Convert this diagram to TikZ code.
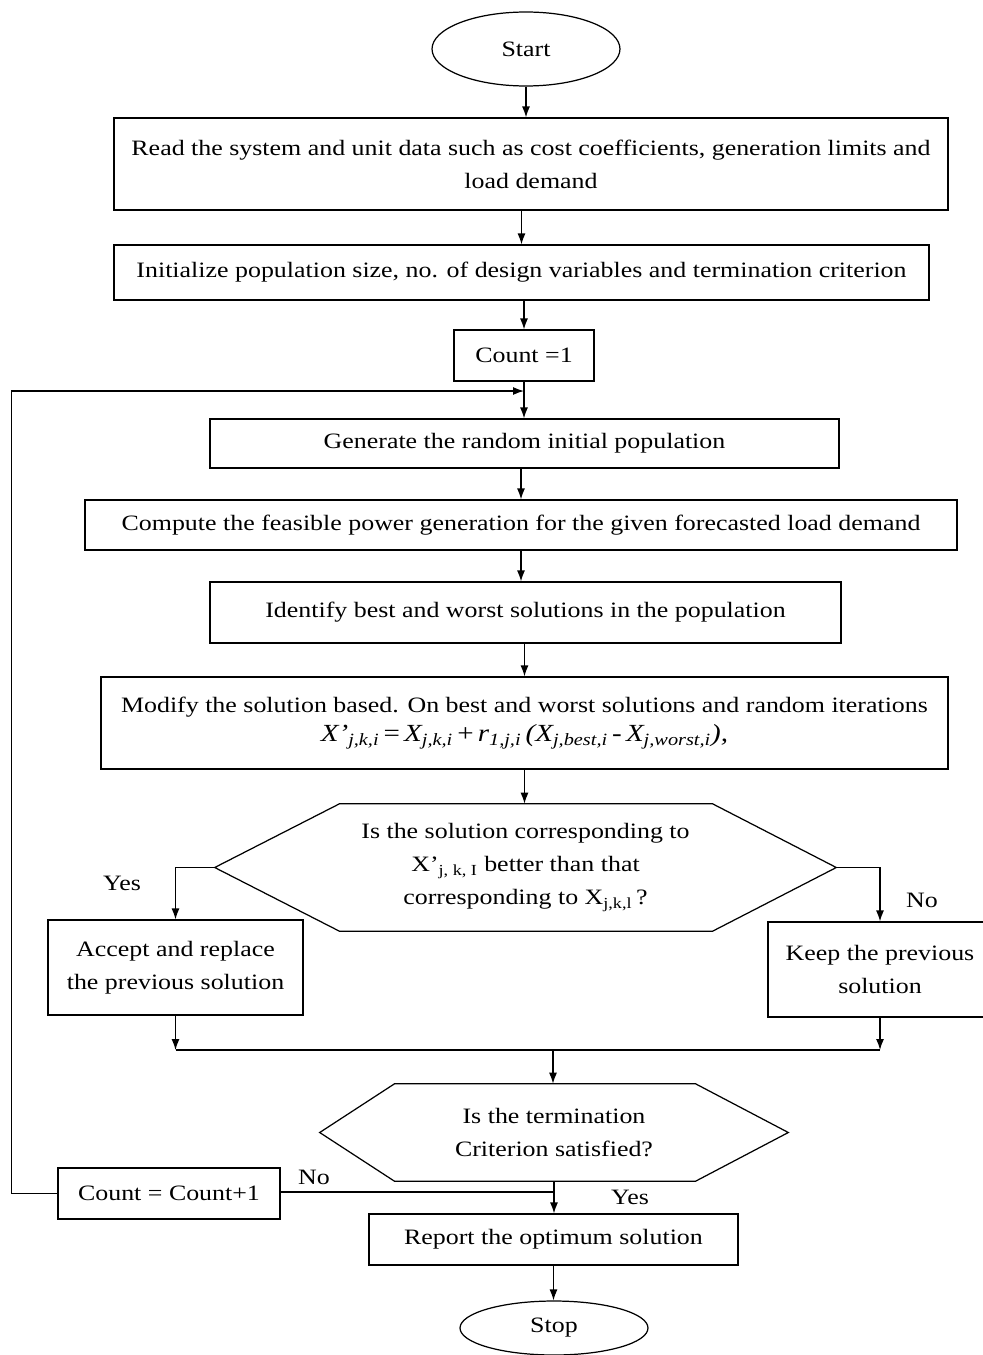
\documentclass[tikz,border=0pt]{standalone}
\usepackage{fontspec}
\setmainfont{Liberation Serif}[FakeStretch=1.18]
\usetikzlibrary{shapes.geometric,arrows.meta}

\begin{document}
\begin{tikzpicture}[x=0.02cm,y=-0.02cm,
  every node/.style={font=\fontsize{12.5}{18.7}\selectfont},
  box/.style={draw,line width=0.7pt,inner sep=0pt,align=center},
  term/.style={draw,ellipse,line width=0.7pt,inner sep=0pt},
  decide/.style={inner sep=0pt,align=center},
  wire/.style={line width=0.7pt},
  link/.style={wire,-{Latex[length=2.2mm,width=1.6mm]}}]%
\useasboundingbox (0,0) rectangle (983,1355);%
% terminals and process boxes
\node[term,minimum width=3.76cm,minimum height=1.48cm] (start) at (526,49) {Start};%
\node[box,minimum width=16.68cm,minimum height=1.84cm] (read) at (531,164) {Read the system and unit data such as cost coefficients, generation limits and\\load demand};%
\node[box,minimum width=16.3cm,minimum height=1.1cm] (init) at (521.5,272.5) {Initialize population size, no. of design variables and termination criterion};%
\node[box,minimum width=2.8cm,minimum height=1.02cm] (cnt) at (524,355.5) {Count =1};%
\node[box,minimum width=12.58cm,minimum height=0.98cm] (gen) at (524.5,443.5) {Generate the random initial population};%
\node[box,minimum width=17.44cm,minimum height=1.0cm] (feas) at (521,525) {Compute the feasible power generation for the given forecasted load demand};%
\node[box,minimum width=12.62cm,minimum height=1.22cm] (ident) at (525.5,612.5) {Identify best and worst solutions in the population};%
\node[box,minimum width=16.94cm,minimum height=1.84cm] (modify) at (524.5,723) {Modify the solution based. On best and worst solutions and random iterations\\[-2pt]{\fontsize{14}{18}\selectfont\itshape X'\textsubscript{j,k,i}\,{\upshape=}\,X\textsubscript{j,k,i}\,{\upshape+}\,r\textsubscript{1,j,i}\,(X\textsubscript{j,best,i}\,{\upshape-}\,X\textsubscript{j,worst,i}),}};%
% first decision
\node[decide,minimum width=12.42cm,minimum height=2.54cm] (better) at (525.5,867.5) {Is the solution corresponding to\\X’\textsubscript{j, k, I} better than that\\corresponding to X\textsubscript{j,k,l}\,?};%
\draw[wire] (better.west) -- ([shift={(125,0)}]better.north west) -- ([shift={(-124,0)}]better.north east) -- (better.east) -- ([shift={(-124,0)}]better.south east) -- ([shift={(125,0)}]better.south west) -- cycle;%
\node[box,minimum width=5.1cm,minimum height=1.9cm] (accept) at (175.5,967.5) {Accept and replace\\the previous solution};%
\node[box,minimum width=4.48cm,minimum height=1.9cm] (keep) at (880,969.5) {Keep the previous\\solution};%
% second decision
\node[decide,minimum width=9.36cm,minimum height=1.94cm] (stopq) at (554,1132.5) {Is the termination\\Criterion satisfied?};%
\draw[wire] (stopq.west) -- ([shift={(75,0)}]stopq.north west) -- ([shift={(-93,0)}]stopq.north east) -- (stopq.east) -- ([shift={(-93,0)}]stopq.south east) -- ([shift={(75,0)}]stopq.south west) -- cycle;%
\node[box,minimum width=4.44cm,minimum height=1.02cm] (incr) at (169,1193.5) {Count = Count+1};%
\node[box,minimum width=7.38cm,minimum height=1.02cm] (report) at (553.5,1239.5) {Report the optimum solution};%
\node[term,minimum width=3.76cm,minimum height=1.08cm] (stop) at (554,1328) {Stop};%
% labels
\node (yes1) at (122,883) {Yes};%
\node (no1) at (922,900) {No};%
\node (no2) at (314,1177) {No};%
\node (yes2) at (630,1197) {Yes};%
% joints
\coordinate (accj) at (175.5,1050);%
\coordinate (keepj) at (880,1050);%
\coordinate (midj) at (553,1050);%
\coordinate (back) at (524,391);%
\coordinate (noj) at (553,1192);%
% connectors
\draw[link] (start) -- (start |- read.north);%
\draw[link] (init.north |- read.south) -- (init.north);%
\draw[link] (cnt.north |- init.south) -- (cnt.north);%
\draw[link] (cnt.south) -- (cnt.south |- gen.north);%
\draw[link] (feas.north |- gen.south) -- (feas.north);%
\draw[link] (feas.south) -- (feas.south |- ident.north);%
\draw[link] (modify.north |- ident.south) -- (modify.north);%
\draw[link] (modify.south) -- (modify.south |- better.north);%
\draw[link] (better.west) -| (accept.north);%
\draw[link] (better.east) -| (keep.north);%
\draw[link] (accept.south) -- (accj);%
\draw[link] (keep.south) -- (keepj);%
\draw[wire] (accj) -- (keepj);%
\draw[link] (midj) -- (midj |- stopq.north);%
\draw[link] (stopq.south) -- (stopq.south |- report.north);%
\draw[wire] (noj) -- (noj -| incr.east);%
\draw[link] (incr.west) -- ++(-46,0) |- (back);%
\draw[link] (report.south) -- (report.south |- stop.north);%
\end{tikzpicture}
\end{document}
